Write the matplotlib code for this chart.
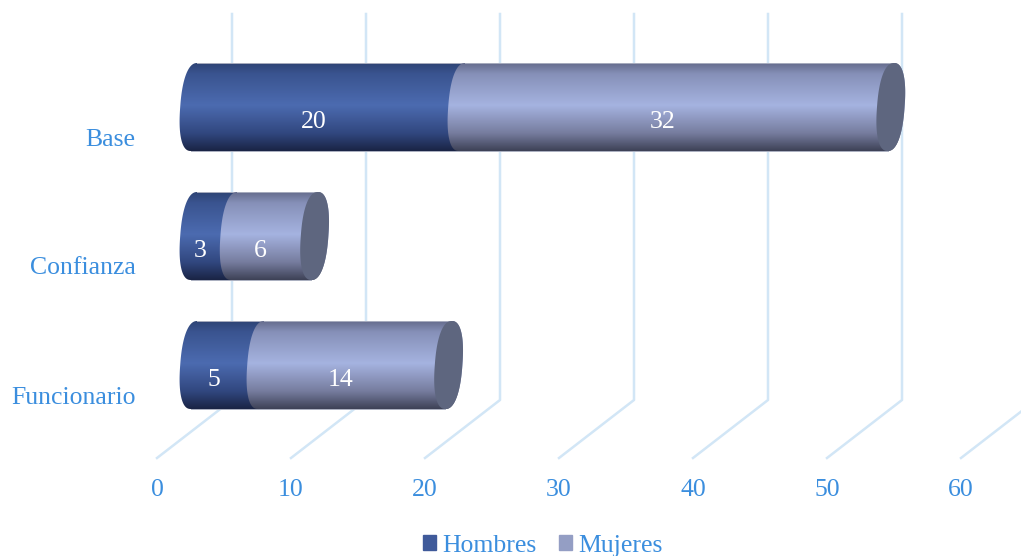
import numpy as np
import matplotlib
matplotlib.use("Agg")
import matplotlib.pyplot as plt
from matplotlib.patches import Patch, PathPatch, Polygon
from matplotlib.path import Path

categorias = ["Funcionario", "Confianza", "Base"]
hombres = [5, 3, 20]
mujeres = [14, 6, 32]
x_ticks = [0, 10, 20, 30, 40, 50, 60]

plt.rcParams["font.family"] = ["Liberation Serif", "DejaVu Serif"]

AZUL_TEXTO = "#3B8EDE"
COLOR_REJILLA = "#D2E6F6"
COLOR_TAPA = "#5E667F"

# pixeles -> unidades de datos
PX_X = 804 / 60
PX_Y = 129
PROF_X = 37 / PX_X   # desplazamiento del cilindro hacia el fondo
PROF_Y = 30 / PX_Y
FONDO_X = 75 / PX_X  # desplazamiento de la pared de fondo
FONDO_Y = 58 / PX_Y
RADIO_X = 13.8 / PX_X
INCL_X = 3.2 / PX_X
RADIO_Y = 44 / PX_Y
EXPO = 0.85          # elipse algo cuadrada, como la del original

Y_MIN, Y_MAX = -63 / PX_Y, 381 / PX_Y

POS_GRAD = [0.0, 0.12, 0.48, 0.8, 1.0]
GRAD_HOMBRES = ["#2E4475", "#3A5490", "#4C6BB0", "#31477F", "#1A2445"]
GRAD_MUJERES = ["#666D8E", "#8690B8", "#A5B3E0", "#767C9E", "#3E4257"]


def hex_rgb(c):
    return matplotlib.colors.to_rgb(c)


def gradiente(colores):
    rgb = np.array([hex_rgb(c) for c in colores])
    t = np.linspace(0, 1, 120)
    return np.stack([np.interp(t, POS_GRAD, rgb[:, k]) for k in range(3)], axis=1)[:, None, :]


def borde(cx, cy, t):
    c = np.sign(np.cos(t)) * np.abs(np.cos(t)) ** EXPO
    s = np.sign(np.sin(t)) * np.abs(np.sin(t)) ** EXPO
    return np.column_stack([cx + RADIO_X * c + INCL_X * s, cy + RADIO_Y * s])


def cilindro(ax, inicio, fin, y, colores, z):
    x0 = inicio + PROF_X
    x1 = fin + PROF_X
    cy = y + PROF_Y
    izq = borde(x0, cy, np.radians(np.linspace(90, 270, 60)))
    der = borde(x1, cy, np.radians(np.linspace(270, 450, 60)))
    contorno = np.vstack([izq, der, izq[:1]])
    ruta = PathPatch(Path(contorno), facecolor="none", edgecolor="none", zorder=z)
    ax.add_patch(ruta)
    img = ax.imshow(gradiente(colores), extent=[x0 - 1.5, x1 + 1.5, cy - RADIO_Y, cy + RADIO_Y],
                    aspect="auto", origin="upper", interpolation="bilinear", zorder=z)
    img.set_clip_path(ruta)
    # filo claro arriba y abajo
    ax.plot([x0 + INCL_X, x1 + INCL_X], [cy + RADIO_Y, cy + RADIO_Y], color="#A9AEBF", lw=0.7, zorder=z + 0.1)
    ax.plot([x0 - INCL_X, x1 - INCL_X], [cy - RADIO_Y, cy - RADIO_Y], color="#A9AEBF", lw=0.7, zorder=z + 0.1)
    return x1, cy


fig = plt.figure(figsize=(10.21, 5.56), dpi=100)
ax = fig.add_axes([157 / 1021, 98 / 556, 804 / 1021, 444 / 556])

# rejilla en perspectiva
for v in x_ticks:
    ax.plot([v, v + FONDO_X, v + FONDO_X], [Y_MIN, Y_MIN + FONDO_Y, Y_MAX],
            color=COLOR_REJILLA, lw=1.8, clip_on=False, zorder=1, solid_joinstyle="round")

z = 3
for i in range(len(categorias)):
    h = hombres[i]
    m = mujeres[i]
    cilindro(ax, 0, h, i, GRAD_HOMBRES, z)
    x1, cy = cilindro(ax, h, h + m, i, GRAD_MUJERES, z + 1)
    tapa = borde(x1, cy, np.radians(np.linspace(0, 360, 120)))
    ax.add_patch(Polygon(tapa, closed=True, facecolor=COLOR_TAPA, edgecolor="none", zorder=z + 2))
    desp = 23 / PX_X
    ax.text(h / 2 + desp, i + 15 / PX_Y, str(h), color="white", fontsize=18.5,
            ha="center", va="center", zorder=z + 3)
    ax.text(h + m / 2 + desp, i + 15 / PX_Y, str(m), color="white", fontsize=18.5,
            ha="center", va="center", zorder=z + 3)

ax.set_xlim(0, 60)
ax.set_ylim(Y_MIN, Y_MAX)
ax.set_xticks(x_ticks)
ax.set_yticks(range(len(categorias)))
ax.set_yticklabels(categorias)
ax.tick_params(axis="x", length=0, pad=15, labelsize=18.5, labelcolor=AZUL_TEXTO)
ax.tick_params(axis="y", length=0, pad=15.3, labelsize=18.5, labelcolor=AZUL_TEXTO)
for s in ax.spines.values():
    s.set_visible(False)
ax.patch.set_alpha(0)

fig.legend(handles=[Patch(color="#3F5A9A", label="Hombres"), Patch(color="#949EC4", label="Mujeres")],
           loc="center", bbox_to_anchor=(543 / 1021, 1 - 546 / 556), ncol=2, frameon=False,
           fontsize=18.5, labelcolor=AZUL_TEXTO, handlelength=0.52, handleheight=0.52,
           handletextpad=0.25, columnspacing=0.85, borderpad=0)

fig.savefig("out.png", dpi=100)
